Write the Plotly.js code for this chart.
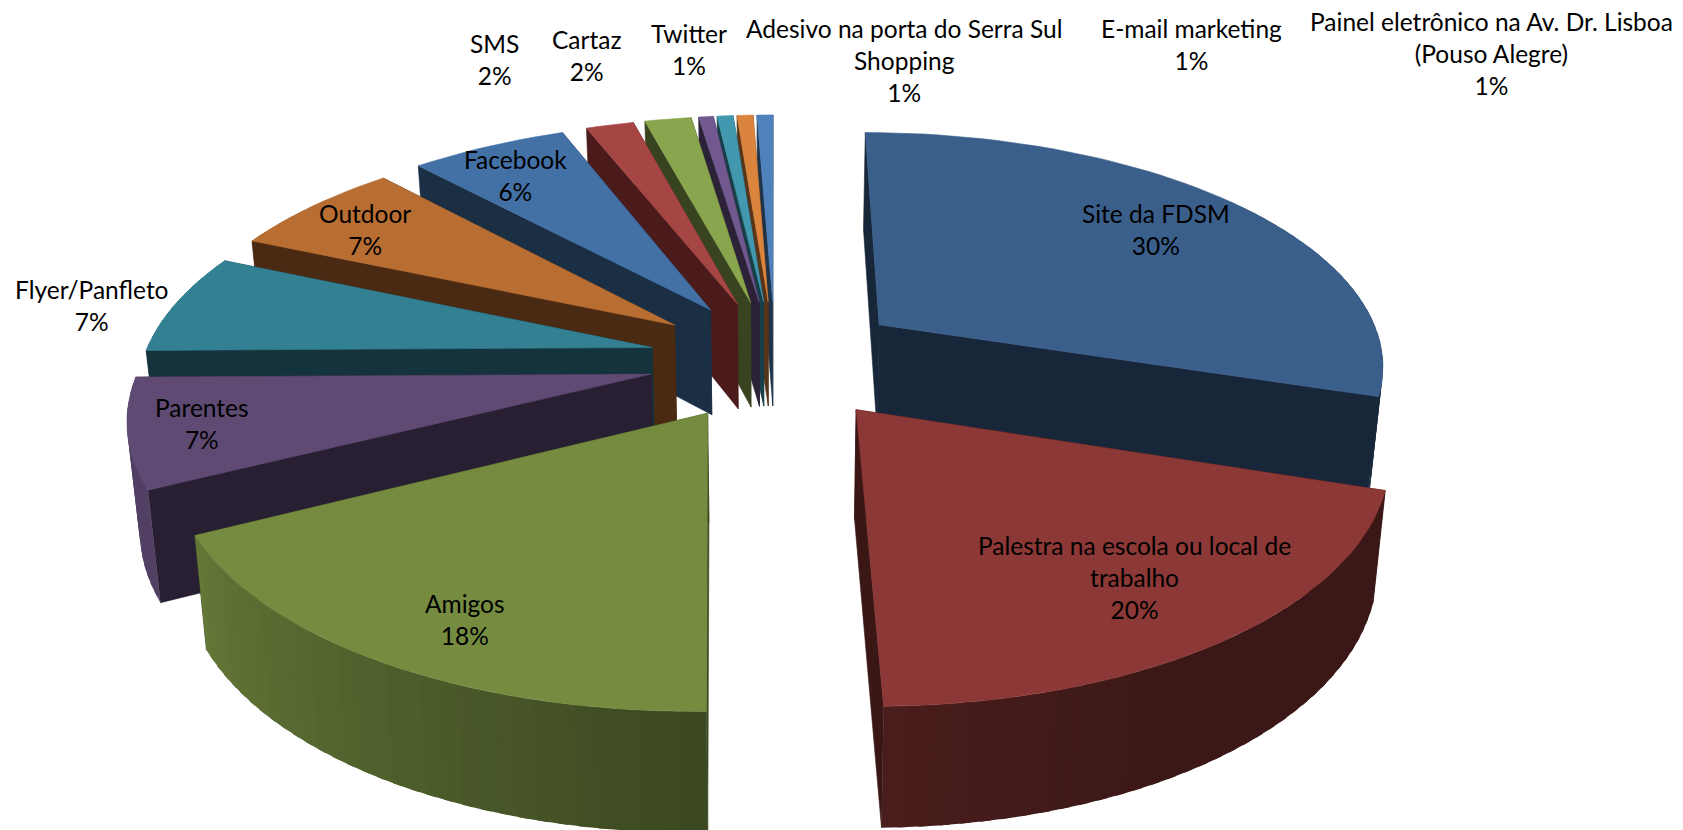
<!DOCTYPE html>
<html><head><meta charset="utf-8">
<script src="https://cdn.plot.ly/plotly-3.0.1.min.js"></script>
<style>html,body{margin:0;padding:0;background:#fff}#c{width:1683px;height:830px}</style>
</head><body><div id="c"></div>
<script>
const categories = ["Site da FDSM","Palestra na escola ou local de<br>trabalho","Amigos","Parentes","Flyer/Panfleto","Outdoor","Facebook","SMS","Cartaz","Twitter","Adesivo na porta do Serra Sul<br>Shopping","E-mail marketing","Painel eletrônico na Av. Dr. Lisboa<br>(Pouso Alegre)"];
const values = [30.0,19.7,17.8,7.3,6.8,6.6,5.9,1.8,1.75,0.55,0.6,0.6,0.6];
const topColors = ["#3A5F8B","#8C3836","#748B40","#5E4A73","#348093","#B86E32","#4371A6","#A64644","#89A54E","#71588F","#4198AF","#DB843D","#4F81BD"];
const wallColors = ["#172639","#3A1615","#3D4A20","#291F33","#15333C","#4A2A12","#1A2E44","#4A1B1A","#38431F","#2C2238","#183E47","#57341A","#1F3449"];
const labelX = [1156,1134,465,202,92,365,515,494,587,689,904,1191,1491];
const labelY = [229,577,619,423,305,229,175,59,55,49,60,44,53];

// view of the tilted, exploded pie
const cx=775, cy=359.5, AR=507, AL=509, B=232.5, k=0.157, E=0.26, EL=0.955, D=107, S=0.98;
const total = values.reduce((a,b)=>a+b,0);
const rad = d=>d*Math.PI/180;
function proj(u,v){const w=1+k*v;return [cx+(u<0?AL:AR)*u/w, cy-B*v/w, w];}
function low(u,v){const p=proj(u,v);return [cx+(p[0]-cx)*S, p[1]+D/Math.pow(p[2],0.6)];}
function mix(hex,f){const n=parseInt(hex.slice(1),16);const c=[n>>16,(n>>8)&255,n&255].map(x=>Math.round(x*f));return `rgb(${c[0]},${c[1]},${c[2]})`;}
const shadeStops=[[90,.42],[150,.42],[180,.52],[243,.86],[300,.9]];
function shade(t){t=((t%360)+360)%360;
  if(t<=90)return .42;if(t>=300)return .9;
  for(let i=1;i<shadeStops.length;i++){const a=shadeStops[i-1],b=shadeStops[i];
    if(t<=b[0])return a[1]+(b[1]-a[1])*(t-a[0])/(b[0]-a[0]);}return .9;}
function poly(pts,color,lw){const xs=pts.map(p=>p[0]).concat(pts[0][0]),ys=pts.map(p=>p[1]).concat(pts[0][1]);
  return {type:"scatter",mode:"lines",x:xs,y:ys,fill:"toself",fillcolor:color,line:{color:color,width:lw},hoverinfo:"skip",showlegend:false};}

let acc=0;
const slices=values.map((v,i)=>{const a0=acc/total*360;acc+=v;const a1=acc/total*360;return {i,a0,a1,mid:(a0+a1)/2};});
const order=slices.slice().sort((p,q)=>Math.cos(rad(q.mid))-Math.cos(rad(p.mid)));
const traces=[];
order.forEach(s=>{
  const sm=Math.sin(rad(s.mid));
  const ox=E*sm*(sm<0?EL:1), oy=E*Math.cos(rad(s.mid));
  const pt=t=>[ox+Math.sin(rad(t)),oy+Math.cos(rad(t))];
  const n=Math.max(2,Math.ceil((s.a1-s.a0)/2));
  const arc=[];for(let j=0;j<=n;j++){arc.push(s.a0+(s.a1-s.a0)*j/n);}
  const walls=[];
  const radial=t=>{const q=pt(t);return {d:(oy+q[1])/2,lw:.6,pts:[proj(ox,oy),proj(q[0],q[1]),low(q[0],q[1]),low(ox,oy)],c:wallColors[s.i]};};
  walls.push(radial(s.a0),radial(s.a1));
  const base=topColors[s.i];
  const stripN=Math.max(1,Math.ceil((s.a1-s.a0)/2));
  for(let j=0;j<stripN;j++){
    const t0=s.a0+(s.a1-s.a0)*j/stripN,t1=s.a0+(s.a1-s.a0)*(j+1)/stripN,tm=(t0+t1)/2;
    if(Math.cos(rad(tm))>0.6) continue;
    const ta=Math.max(s.a0,t0-.5),tb=Math.min(s.a1,t1+.5);
    const seg=[];for(let m=0;m<=2;m++){const t=ta+(tb-ta)*m/2;seg.push(pt(t));}
    const pts=seg.map(q=>proj(q[0],q[1])).concat(seg.slice().reverse().map(q=>low(q[0],q[1])));
    walls.push({d:seg[1][1],lw:0,pts,c:mix(base,shade(tm))});
  }
  walls.sort((a,b)=>b.d-a.d).forEach(w=>traces.push(poly(w.pts,w.c,w.lw)));
  traces.push(poly([proj(ox,oy)].concat(arc.map(t=>{const q=pt(t);return proj(q[0],q[1]);})),base,.6));
});

const annotations=categories.map((c,i)=>({x:labelX[i],y:labelY[i],xref:"x",yref:"y",showarrow:false,xanchor:"center",yanchor:"middle",align:"center",
  text:c+"<br>"+Math.round(values[i]/total*100)+"%",font:{family:"Lato, 'Open Sans', sans-serif",size:24.5,color:"#000"}}));

Plotly.newPlot("c",traces,{
  width:1683,height:830,margin:{l:0,r:0,t:0,b:0},paper_bgcolor:"#fff",plot_bgcolor:"#fff",showlegend:false,
  xaxis:{range:[0,1683],visible:false,fixedrange:true},yaxis:{range:[830,0],visible:false,fixedrange:true},
  annotations
},{staticPlot:true,displayModeBar:false});
</script></body></html>
